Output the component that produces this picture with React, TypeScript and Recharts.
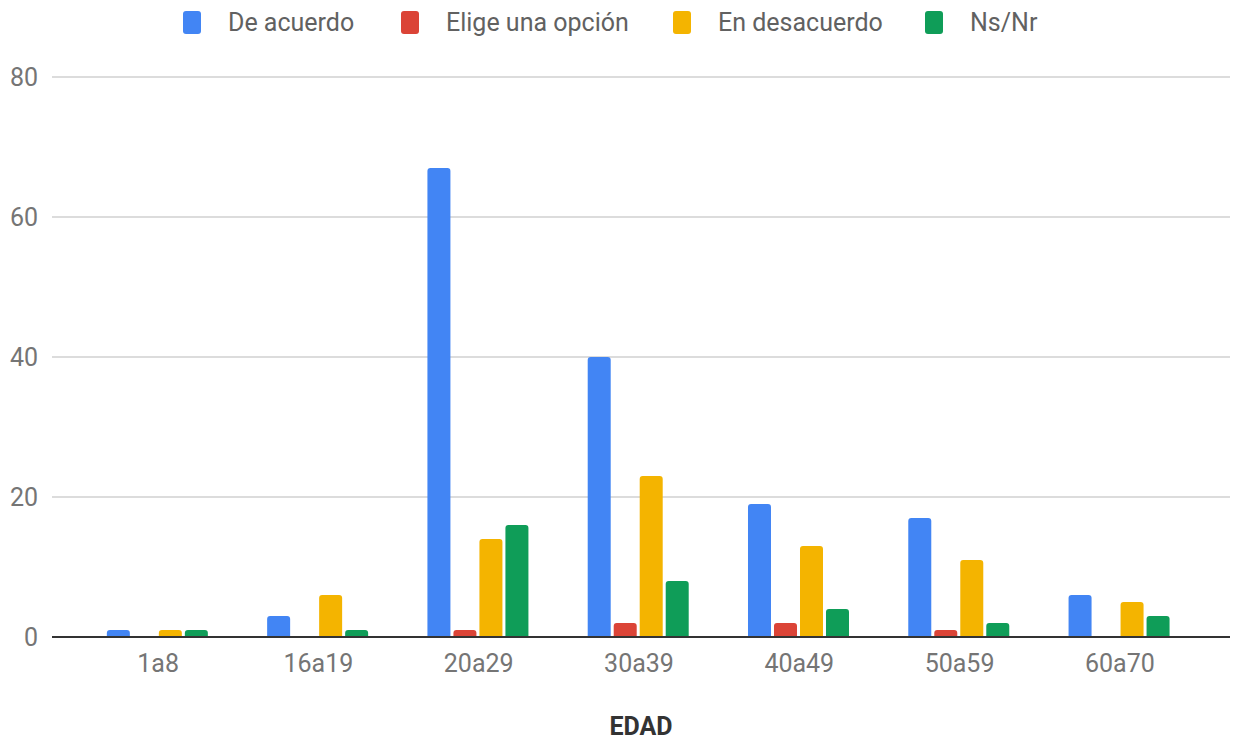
import React from 'react';
import { BarChart, Bar, XAxis, YAxis, CartesianGrid, Legend } from 'recharts';

const ageGroups = ['1a8', '16a19', '20a29', '30a39', '40a49', '50a59', '60a70'];
const deAcuerdo = [1, 3, 67, 40, 19, 17, 6];
const eligeOpcion = [0, 0, 1, 2, 2, 1, 0];
const enDesacuerdo = [1, 6, 14, 23, 13, 11, 5];
const nsNr = [1, 1, 16, 8, 4, 2, 3];
const yTicks = [0, 20, 40, 60, 80];

const series = [
  { key: 'deAcuerdo', name: 'De acuerdo', color: '#4285F4' },
  { key: 'eligeOpcion', name: 'Elige una opción', color: '#DB4437' },
  { key: 'enDesacuerdo', name: 'En desacuerdo', color: '#F4B400' },
  { key: 'nsNr', name: 'Ns/Nr', color: '#0F9D58' },
];

const data = ageGroups.map((edad, i) => ({
  edad,
  deAcuerdo: deAcuerdo[i],
  eligeOpcion: eligeOpcion[i],
  enDesacuerdo: enDesacuerdo[i],
  nsNr: nsNr[i],
}));

const font = 'Roboto, "Noto Sans", sans-serif';
// left edge of each legend swatch
const legendLeft = [183, 401, 673, 925];

const renderLegend = () => (
  <div style={{ position: 'relative', height: 45, fontFamily: font, fontSize: 25, color: '#616161' }}>
    {series.map((s, i) => (
      <div key={s.key} style={{ position: 'absolute', left: legendLeft[i], top: 0, height: 45, display: 'flex', alignItems: 'center', whiteSpace: 'nowrap' }}>
        <span style={{ display: 'inline-block', width: 18, height: 23, borderRadius: 3, background: s.color, marginRight: 27 }} />
        <span>{s.name}</span>
      </div>
    ))}
  </div>
);

const App: React.FC = () => {
  return <div style={{ position: 'absolute', left: 0, top: 0, width: 1238, height: 744, background: '#fff' }}>
      <BarChart width={1238} height={744} data={data} margin={{
      top: 32,
      right: 8,
      left: 0,
      bottom: 0
    }} barCategoryGap="18%" barGap={3}>
        <CartesianGrid vertical={false} stroke="#d0d0d0" strokeWidth={1.3} />
        <XAxis dataKey="edad" height={107} padding={{
        left: 26,
        right: 30
      }} tickLine={false} tickSize={0} tickMargin={17} axisLine={{
        stroke: '#333',
        strokeWidth: 2
      }} tick={{
        fontSize: 25,
        fill: '#757575',
        fontFamily: font
      }} label={{
        value: 'EDAD',
        position: 'insideBottom',
        offset: 9,
        style: {
          fontSize: 25,
          fontWeight: 'bold',
          fill: '#333',
          fontFamily: font
        }
      }} />
        <YAxis width={52} domain={[0, 80]} ticks={yTicks} axisLine={false} tickLine={false} tickSize={0} tickMargin={14} tick={{
        fontSize: 25,
        fill: '#757575',
        fontFamily: font
      }} />
        <Legend verticalAlign="top" content={renderLegend} wrapperStyle={{
        top: 0,
        left: 0,
        width: 1238,
        height: 45
      }} />
        {series.map(s => <Bar key={s.key} dataKey={s.key} name={s.name} fill={s.color} radius={[3, 3, 0, 0]} isAnimationActive={false} />)}
      </BarChart>
    </div>;
};

export default App;
